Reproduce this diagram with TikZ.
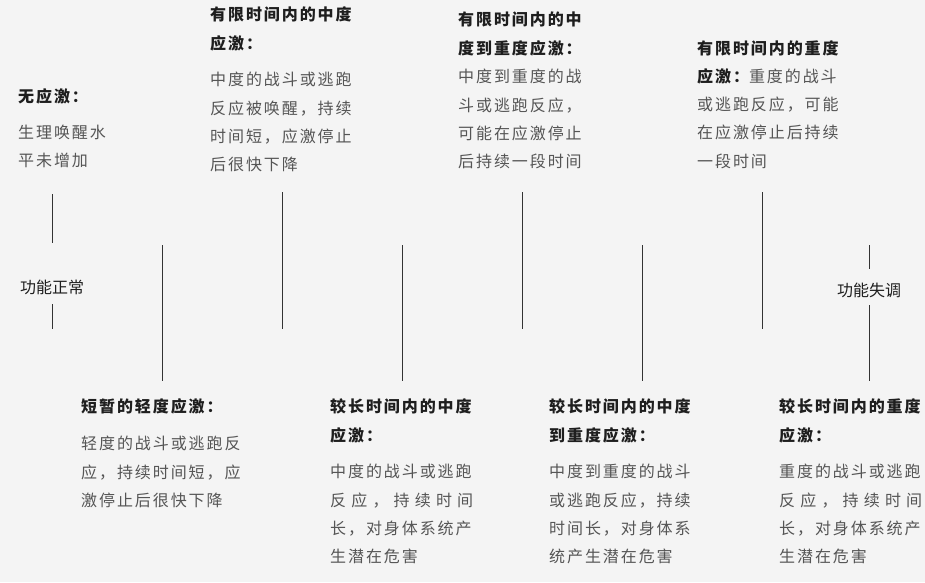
\documentclass[tikz,border=0pt]{standalone}
\usepackage{fontspec}
\setmainfont{Noto Sans CJK SC}
\newfontfamily\zh{Noto Sans CJK SC}[LetterSpace=12]
\definecolor{bg}{HTML}{F4F4F4}
\definecolor{headc}{HTML}{1E1E1E}
\definecolor{bodyc}{HTML}{555555}
\definecolor{tickc}{HTML}{333333}
\tikzset{
  txt/.style={anchor=north west,yshift=14pt,inner sep=0,align=left,execute at begin node={\rule{0pt}{14pt}}},
  head/.style={txt,text=headc,font=\zh\bfseries\fontsize{16}{29}\selectfont},
  body/.style={txt,text=bodyc,font=\zh\fontsize{16}{28.3}\selectfont},
  state/.style={inner sep=0,text=headc,font=\fontsize{16}{18}\selectfont},
  tick/.style={draw=tickc,line width=1pt}
}
\newcommand{\spread}[1]{\makebox[143pt][s]{#1}}
\begin{document}
\begin{tikzpicture}[x=1pt,y=-1pt]
        \fill[bg](0,0)rectangle(925,582);
        \useasboundingbox(0,0)rectangle(925,582);

        % upper row
        \node[head](h0)at(18,102){无应激：};
        \node[body](b0)at(18,139){生理唤醒水\\平未增加};
        \node[head](h2)at(210,20){有限时间内的中度\\应激：};
        \node[body](b2)at(210,86){中度的战斗或逃跑\\反应被唤醒，持续\\时间短，应激停止\\后很快下降};
        \node[head](h4)at(458,26){有限时间内的中\\度到重度应激：};
        \node[body](b4)at(458,83){中度到重度的战\\斗或逃跑反应，\\可能在应激停止\\后持续一段时间};
        \node[body](b6)at(697,54){\textcolor{headc}{\bfseries 有限时间内的重度}\\\textcolor{headc}{\bfseries 应激：}重度的战斗\\或逃跑反应，可能\\在应激停止后持续\\一段时间};

        % lower row
        \node[head](h1)at(81,412){短暂的轻度应激：};
        \node[body](b1)at(81,450){轻度的战斗或逃跑反\\应，持续时间短，应\\激停止后很快下降};
        \node[head](h3)at(330,412){较长时间内的中度\\应激：};
        \node[body](b3)at(330,478){中度的战斗或逃跑\\\spread{反 应 ， 持 续 时 间}\\长，对身体系统产\\生潜在危害};
        \node[head](h5)at(549,412){较长时间内的中度\\到重度应激：};
        \node[body](b5)at(549,478){中度到重度的战斗\\或逃跑反应，持续\\时间长，对身体系\\统产生潜在危害};
        \node[head](h7)at(779,412){较长时间内的重度\\应激：};
        \node[body](b7)at(779,478){重度的战斗或逃跑\\\spread{反 应 ， 持 续 时 间}\\长，对身体系统产\\生潜在危害};

        % ends of the scale
        \node[state](ok)at(52,287){功能正常};
        \node[state](bad)at(869,290){功能失调};
        \draw[tick](52,194)--(52,243) (52,304)--(52,329);
        \draw[tick](869,245)--(869,269) (869,305)--(869,381);

        % stages
        \foreach \x/\a/\b in {162/245/381,282/192/329,402/245/381,522/192/329,642/245/381,762/192/329}
            \draw[tick](\x,\a)--(\x,\b);
    \end{tikzpicture}
\end{document}
